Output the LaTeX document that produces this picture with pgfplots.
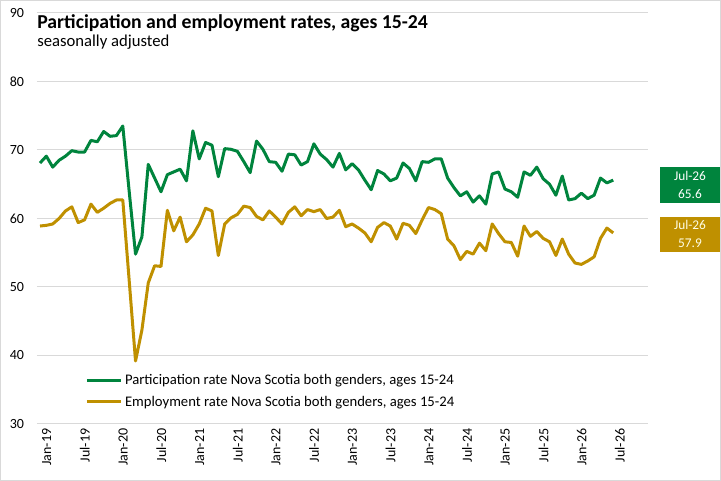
\documentclass[border=0pt]{standalone}
\usepackage{pgfplots}
\pgfplotsset{compat=1.18}
\usepackage{fontspec}
\setmainfont{Carlito}
\definecolor{pgreen}{HTML}{00843D}
\definecolor{pgold}{HTML}{BF9000}
\definecolor{gridc}{HTML}{D9D9D9}
\begin{document}
\begin{tikzpicture}
\path[use as bounding box] (0,0) rectangle (540.75pt,360.75pt);
\draw[gridc, line width=0.6pt] (0.3pt,0.3pt) rectangle (540.45pt,360.45pt);
\begin{axis}[
  at={(27.6pt,42.75pt)}, anchor=south west,
  scale only axis, width=458.6pt, height=308.25pt,
  xmin=-0.5, xmax=95.5, ymin=30, ymax=90,
  ytick={30,40,...,90},
  xtick={0,6,...,90},
  xticklabels={Jan-19,Jul-19,Jan-20,Jul-20,Jan-21,Jul-21,Jan-22,Jul-22,Jan-23,Jul-23,Jan-24,Jul-24,Jan-25,Jul-25,Jan-26,Jul-26},
  axis line style={draw=none},
  major tick length=0pt,
  ymajorgrids, grid style={gridc, line width=0.75pt},
  /pgf/number format/assume math mode=true,
  tick label style={font=\fontsize{10.5}{12}\selectfont, text=black},
  yticklabel style={anchor=east, xshift=-6pt},
  xticklabel style={rotate=90, anchor=east, yshift=-5pt},
  legend style={at={(0.079,0.128)}, anchor=north west, draw=none, fill=none,
    font=\fontsize{11}{12.5}\selectfont, row sep=3pt, inner sep=0pt,
    legend cell align=left},
  legend image code/.code={\draw[#1, line width=2.25pt] (0pt,0pt) -- (25.5pt,0pt);},
  every axis plot/.append style={line width=2.25pt, line join=round},
]
\addplot[pgreen, mark=none] coordinates {
(0,68.1)(1,69.1)(2,67.5)(3,68.5)(4,69.1)(5,69.9)(6,69.7)(7,69.7)(8,71.4)(9,71.2)
(10,72.7)(11,72.0)(12,72.1)(13,73.5)(14,64.0)(15,54.8)(16,57.3)(17,67.9)(18,65.9)(19,63.9)
(20,66.4)(21,66.8)(22,67.2)(23,65.5)(24,72.8)(25,68.7)(26,71.1)(27,70.7)(28,66.1)(29,70.2)
(30,70.1)(31,69.8)(32,68.3)(33,66.7)(34,71.3)(35,70.1)(36,68.3)(37,68.2)(38,66.9)(39,69.4)
(40,69.3)(41,67.8)(42,68.3)(43,70.9)(44,69.4)(45,68.6)(46,67.5)(47,69.5)(48,67.1)(49,68.0)
(50,67.1)(51,65.6)(52,64.2)(53,67.0)(54,66.5)(55,65.5)(56,65.9)(57,68.1)(58,67.3)(59,65.5)
(60,68.3)(61,68.2)(62,68.7)(63,68.7)(64,65.9)(65,64.5)(66,63.3)(67,63.9)(68,62.4)(69,63.3)
(70,62.1)(71,66.5)(72,66.8)(73,64.3)(74,63.9)(75,63.1)(76,66.8)(77,66.3)(78,67.5)(79,65.8)
(80,65.0)(81,63.4)(82,66.2)(83,62.7)(84,62.9)(85,63.7)(86,62.9)(87,63.4)(88,65.9)(89,65.2)
(90,65.6)};
\addlegendentry{Participation rate Nova Scotia both genders, ages 15-24}
\addplot[pgold, mark=none] coordinates {
(0,58.9)(1,59.0)(2,59.2)(3,60.0)(4,61.1)(5,61.7)(6,59.4)(7,59.8)(8,62.1)(9,60.9)
(10,61.5)(11,62.2)(12,62.7)(13,62.7)(14,51.0)(15,39.2)(16,43.7)(17,50.6)(18,53.1)(19,53.0)
(20,61.2)(21,58.2)(22,60.2)(23,56.6)(24,57.6)(25,59.2)(26,61.5)(27,61.1)(28,54.6)(29,59.2)
(30,60.1)(31,60.6)(32,61.8)(33,61.6)(34,60.3)(35,59.8)(36,61.1)(37,60.2)(38,59.2)(39,60.9)
(40,61.7)(41,60.4)(42,61.3)(43,61.0)(44,61.3)(45,60.0)(46,60.2)(47,61.2)(48,58.8)(49,59.2)
(50,58.6)(51,57.9)(52,56.6)(53,58.7)(54,59.4)(55,58.9)(56,57.0)(57,59.3)(58,59.0)(59,57.8)
(60,59.8)(61,61.6)(62,61.3)(63,60.7)(64,57.0)(65,56.0)(66,54.0)(67,55.2)(68,54.8)(69,56.4)
(70,55.3)(71,59.2)(72,57.8)(73,56.6)(74,56.5)(75,54.5)(76,58.9)(77,57.4)(78,58.1)(79,57.1)
(80,56.6)(81,54.6)(82,57.0)(83,54.8)(84,53.5)(85,53.3)(86,53.8)(87,54.4)(88,57.1)(89,58.6)
(90,57.9)};
\addlegendentry{Employment rate Nova Scotia both genders, ages 15-24}
\end{axis}
\node[anchor=base west, inner sep=0pt, font=\fontsize{14.8}{16}\selectfont\bfseries] at (27.8pt,339pt) {Participation and employment rates, ages 15-24};
\node[anchor=base west, inner sep=0pt, font=\fontsize{12.5}{14}\selectfont] at (27.8pt,325.5pt) {seasonally adjusted};
\node[fill=pgreen, text=white, minimum width=45pt, minimum height=26.5pt, inner sep=0pt, align=center, font=\fontsize{10}{13.5}\selectfont] at (517.5pt,222pt) {Jul-26\\65.6};
\node[fill=pgold, text=white!90!yellow, minimum width=45pt, minimum height=26.5pt, inner sep=0pt, align=center, font=\fontsize{10}{13.5}\selectfont] at (517.5pt,185.1pt) {Jul-26\\57.9};
\end{tikzpicture}
\end{document}
